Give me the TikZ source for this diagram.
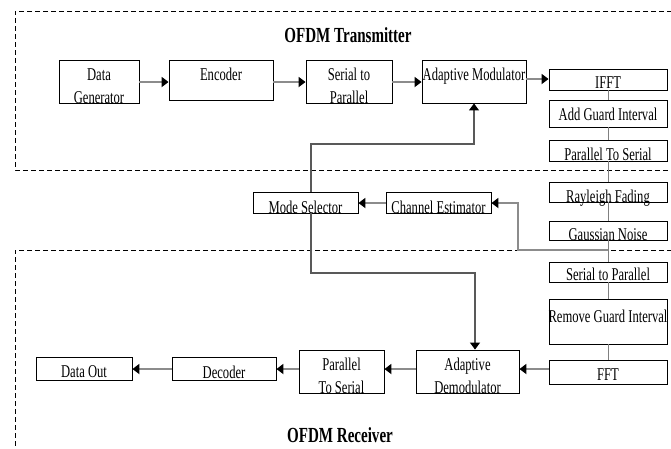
\documentclass[tikz,border=0pt]{standalone}
\usepackage{fontspec}
\setmainfont{Liberation Serif}[FakeStretch=0.7]
\usetikzlibrary{arrows.meta}
\newcommand\blk[5]{\node[box,minimum width={#4-#2},minimum height={#5-#3}] (#1) at ({(#2+#4)/2},{(#3+#5)/2}) {};}
\begin{document}
\begin{tikzpicture}[x=1pt,y=-1pt,
  box/.style={draw=black,line width=0.9pt,fill=white,inner sep=0pt},
  txt/.style={anchor=base,inner sep=0pt,font=\fontsize{18}{22}\selectfont},
  ttl/.style={anchor=base,inner sep=0pt,font=\fontsize{21.5}{24}\selectfont\bfseries},
  conn/.style={draw=black!45,line width=2pt,-{Triangle[length=7pt,width=10pt,color=black]}},
  fb/.style={draw=black!65,line width=1.2pt,-{Triangle[length=7pt,width=10pt,color=black]}},
  chain/.style={draw=black!50,line width=1pt},
  region/.style={draw=black,line width=0.8pt,dash pattern=on 5pt off 3pt},
]
\clip (0,0) rectangle (671,448);
\fill[white] (0,0) rectangle (671,448);
% regions
\draw[region] (680,11) -- (15,11) -- (15,170) -- (680,170);
\draw[region] (680,250) -- (15,250) -- (15,460);
\node[ttl] (tt) at (348,42) {OFDM Transmitter};
\node[ttl] (tr) at (340,442) {OFDM Receiver};
% boxes
\blk{dg}{59}{60}{139}{103}
\blk{enc}{169}{60}{273}{100}
\blk{s2p}{306}{60}{392}{103}
\blk{am}{422}{60}{526}{103}
\blk{ifft}{549}{69}{667}{90}
\blk{agi}{549}{100}{667}{127}
\blk{p2st}{549}{140}{667}{161}
\blk{ray}{549}{182}{667}{202}
\blk{gn}{549}{221}{667}{240}
\blk{s2pr}{549}{262}{667}{282}
\blk{rgi}{549}{299}{667}{344}
\blk{fft}{549}{360}{667}{384}
\blk{ms}{253}{192}{358}{213}
\blk{ce}{386}{192}{491}{213}
\blk{ad}{416}{350}{519}{393}
\blk{p2sr}{299}{350}{384}{393}
\blk{dec}{172}{357}{276}{380}
\blk{dout}{36}{357}{132}{380}
% chain
\draw[chain] (ifft) -- (agi) -- (p2st) -- (ray) -- (gn) -- (s2pr) -- (rgi) -- (fft);
% texts
\node[txt] (dg-a) at (99,80) {Data};
\node[txt] (dg-b) at (99,103) {Generator};
\node[txt] (enc-t) at (221,80) {Encoder};
\node[txt] (s2p-a) at (349,80) {Serial to};
\node[txt] (s2p-b) at (349,103) {Parallel};
\node[txt] (am-t) at (474,80) {Adaptive Modulator};
\node[txt] (ifft-t) at (608,88) {IFFT};
\node[txt] (agi-t) at (608,120) {Add Guard Interval};
\node[txt] (p2st-t) at (608,160) {Parallel To Serial};
\node[txt] (ray-t) at (608,202) {Rayleigh Fading};
\node[txt] (gn-t) at (608,240) {Gaussian Noise};
\node[txt] (s2pr-t) at (608,280) {Serial to Parallel};
\node[txt] (rgi-t) at (608,322) {Remove Guard Interval};
\node[txt] (fft-t) at (608,380) {FFT};
\node[txt] (ms-t) at (305.5,213) {Mode Selector};
\node[txt] (ce-t) at (438.5,213) {Channel Estimator};
\node[txt] (ad-a) at (467.5,370) {Adaptive};
\node[txt] (ad-b) at (467.5,393) {Demodulator};
\node[txt] (p2sr-a) at (341.5,370) {Parallel};
\node[txt] (p2sr-b) at (341.5,393) {To Serial};
\node[txt] (dec-t) at (224,378) {Decoder};
\node[txt] (dout-t) at (84,377) {Data Out};
% connectors
\draw[conn] (dg.east |- 0,82) -- (enc.west |- 0,82);
\draw[conn] (enc.east |- 0,82) -- (s2p.west |- 0,82);
\draw[conn] (s2p.east |- 0,82) -- (am.west |- 0,82);
\draw[conn] (am.east |- 0,79) -- (ifft.west |- 0,79);
\draw[conn] (ce.west |- 0,203) -- (ms.east |- 0,203);
\draw[conn] (fft.west |- 0,369) -- (ad.east |- 0,369);
\draw[conn] (ad.west |- 0,369) -- (p2sr.east |- 0,369);
\draw[conn] (p2sr.west |- 0,369) -- (dec.east |- 0,369);
\draw[conn] (dec.west |- 0,369) -- (dout.east |- 0,369);
\coordinate (tap) at (608,250);
\coordinate (k0) at (518,250);
\draw[conn] (tap) -- (k0) |- (ce.east |- 0,203);
\coordinate (k1) at (311,144);
\draw[fb] ([xshift=5.5pt]ms.north) -- (k1) -| (am.south);
\coordinate (k2) at (311,273);
\draw[fb] ([xshift=5.5pt]ms.south) -- (k2) -| ([xshift=7.5pt]ad.north);
\end{tikzpicture}
\end{document}
